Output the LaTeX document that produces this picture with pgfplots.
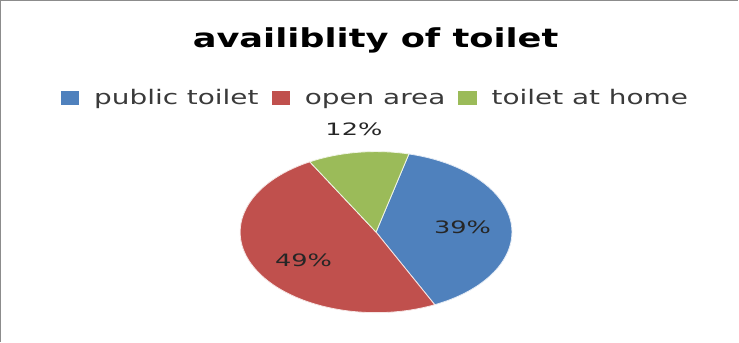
\documentclass[border=0pt]{standalone}
\usepackage{pgfplots}
\pgfplotsset{compat=1.18}
\usepackage{pgfplotstable}
\usepackage{graphicx}
\usepackage{fontspec}
\setmainfont{DejaVu Sans}
\definecolor{pieblue}{HTML}{4F81BD}
\definecolor{piered}{HTML}{C0504D}
\definecolor{piegreen}{HTML}{9BBB59}
\definecolor{legtext}{HTML}{3A3A3A}
\definecolor{frame}{HTML}{8C8C8C}
\newcommand\stxt[3]{\scalebox{#1}[1]{\fontsize{#2}{#2}\selectfont #3}}

\pgfplotstableread{
name value
public 39
open 49
home 12
}\piedata

\begin{document}
\begin{tikzpicture}
\pgfplotstablegetelem{0}{value}\of\piedata \let\vA\pgfplotsretval
\pgfplotstablegetelem{1}{value}\of\piedata \let\vB\pgfplotsretval
\pgfplotstablegetelem{2}{value}\of\piedata \let\vC\pgfplotsretval
\pgfmathsetmacro\aA{76}
\pgfmathsetmacro\aB{\aA-3.6*\vA}
\pgfmathsetmacro\aC{\aB-3.6*\vB}
\pgfmathsetmacro\aD{\aC-3.6*\vC}
\begin{axis}[
  scale only axis, width=739bp, height=345bp,
  xmin=0, xmax=739, ymin=0, ymax=345,
  hide axis, clip=false,
  legend columns=3,
  legend image code/.code={\fill[#1] (0bp,-0.5bp) rectangle (18bp,13.5bp);},
  legend style={at={(axis cs:66,236)}, anchor=base west, draw=none, fill=none,
    inner sep=0pt, outer sep=0pt,
    nodes={inner sep=0pt, outer sep=0pt, text=legtext, anchor=base west},
    /tikz/every odd column/.append style={column sep=15bp},
    /tikz/every even column/.append style={column sep=13bp}},
]
\addlegendimage{fill=pieblue, draw=none}
\addlegendentry{\stxt{1.39}{20}{public toilet}}
\addlegendimage{fill=piered, draw=none}
\addlegendentry{\stxt{1.39}{20}{open area}}
\addlegendimage{fill=piegreen, draw=none}
\addlegendentry{\stxt{1.39}{20}{toilet at home}}

% frame
\draw[frame, line width=1.2bp] (axis cs:6,0) -- (axis cs:6,339) -- (axis cs:739,339);

% pie slices
\fill[pieblue, draw=white!85!pieblue, line width=0.8bp] (axis cs:379,109) -- ++(\aA:135bp and 80bp)
  arc[start angle=\aA, end angle=\aB, x radius=135bp, y radius=80bp] -- cycle;
\fill[piered, draw=white!85!piered, line width=0.8bp] (axis cs:379,109) -- ++(\aB:135bp and 80bp)
  arc[start angle=\aB, end angle=\aC, x radius=135bp, y radius=80bp] -- cycle;
\fill[piegreen, draw=white!85!piegreen, line width=0.8bp] (axis cs:379,109) -- ++(\aC:135bp and 80bp)
  arc[start angle=\aC, end angle=\aD, x radius=135bp, y radius=80bp] -- cycle;

% title
\node[anchor=base, inner sep=0pt] at (axis cs:378.5,292) {\stxt{1.35}{26}{\bfseries availiblity of toilet}};

% data labels
\node[inner sep=0pt, text=black!85] at (axis cs:357,211) {\stxt{1.5}{17}{\vC\%}};
\node[inner sep=0pt, text=black!85] at (axis cs:465,114) {\stxt{1.5}{17}{\vA\%}};
\node[inner sep=0pt, text=black!85] at (axis cs:307,81) {\stxt{1.5}{17}{\vB\%}};
\end{axis}
\end{tikzpicture}
\end{document}
